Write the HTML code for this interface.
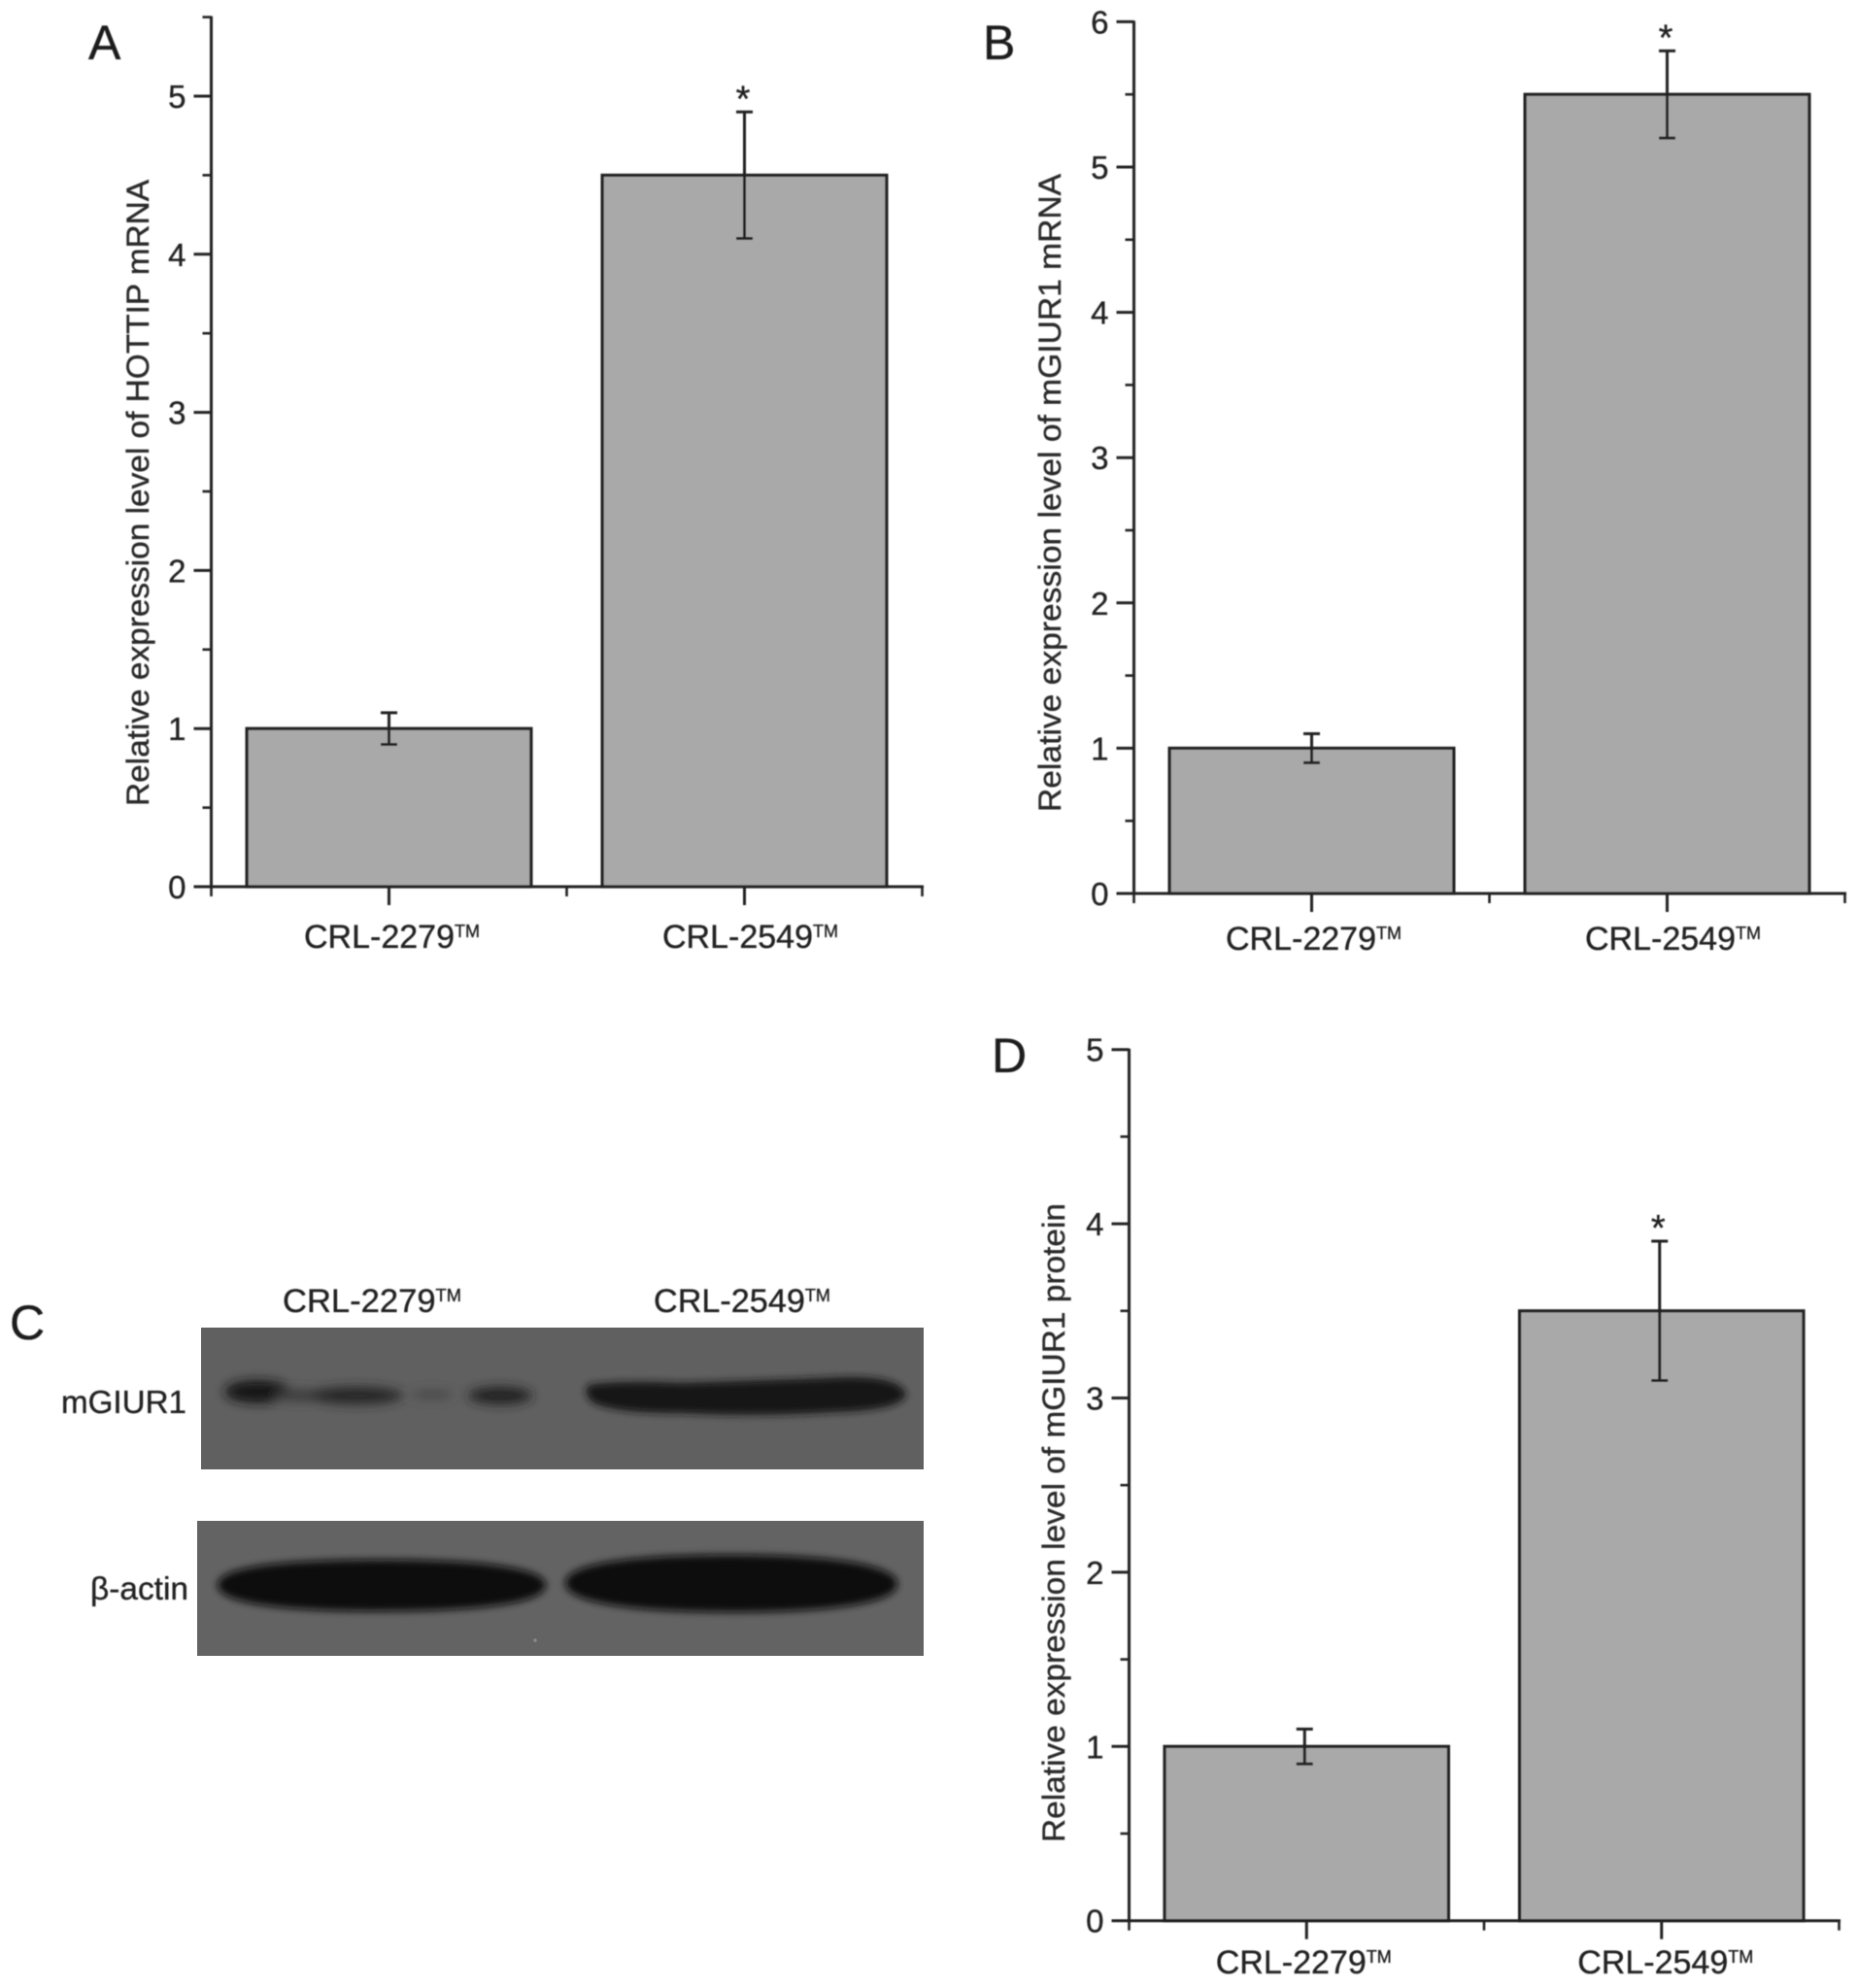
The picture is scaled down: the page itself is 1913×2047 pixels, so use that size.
<!DOCTYPE html>
<html lang="en">
<head>
<meta charset="utf-8">
<title>HOTTIP and mGIUR1 expression</title>
<style>
html,body{margin:0;padding:0;background:#fff;}
svg{display:block;font-family:"Liberation Sans","DejaVu Sans",sans-serif;}
text{stroke:#222;stroke-width:.35px;}
</style>
</head>
<body>
<svg id="figure" xmlns="http://www.w3.org/2000/svg" width="1913" height="2047" viewBox="0 0 1913 2047">
  <defs>
    <filter id="soft" x="-2%" y="-2%" width="104%" height="104%"><feGaussianBlur stdDeviation="0.6"/></filter>
    <filter id="b4" x="-30%" y="-80%" width="160%" height="260%"><feGaussianBlur stdDeviation="4"/></filter>
    <filter id="b5" x="-30%" y="-80%" width="160%" height="260%"><feGaussianBlur stdDeviation="5.5"/></filter>
  </defs>
  <rect width="1913" height="2047" fill="#fff"/>
  <g id="charts" filter="url(#soft)"></g>

  <g>
    <g filter="url(#soft)">
      <text x="10" y="1379" font-size="50" fill="#1c1c1c">C</text>
      <text x="291" y="1351" font-size="34" fill="#222" textLength="184" lengthAdjust="spacingAndGlyphs">CRL-2279<tspan font-size="18" dy="-11">TM</tspan></text>
      <text x="673" y="1351" font-size="34" fill="#222" textLength="182" lengthAdjust="spacingAndGlyphs">CRL-2549<tspan font-size="18" dy="-11">TM</tspan></text>
      <text x="63" y="1455" font-size="33" fill="#222" textLength="129" lengthAdjust="spacingAndGlyphs">mGIUR1</text>
      <text x="93" y="1647" font-size="33" fill="#222" textLength="101" lengthAdjust="spacingAndGlyphs">β-actin</text>
    </g>

    <g>
      <rect x="207" y="1367" width="744" height="146" fill="#606060"/>
      <g filter="url(#b5)" fill="#161616">
        <ellipse cx="265" cy="1433" rx="34" ry="12" fill="#181818"/>
        <ellipse cx="310" cy="1437" rx="30" ry="6" fill="#3a3a3a"/>
        <ellipse cx="367" cy="1437" rx="48" ry="9" fill="#262626"/>
        <ellipse cx="445" cy="1436" rx="22" ry="4" fill="#444"/>
        <ellipse cx="515" cy="1437" rx="33" ry="9" fill="#222"/>
      </g>
      <g filter="url(#b4)">
        <path d="M606 1426 Q640 1421 700 1424 Q800 1421 870 1418 Q928 1417 933 1436 Q928 1452 860 1454 Q780 1459 700 1455 Q630 1455 610 1444 Q599 1434 606 1426Z" fill="#121212"/>
      </g>
    </g>

    <g>
      <rect x="203" y="1566" width="748" height="139" fill="#636363"/>
      <g filter="url(#b4)" fill="#0c0c0c">
        <path d="M224 1632 C224 1613 290 1606 393 1606 C500 1606 562 1615 562 1632 C562 1650 500 1659 393 1659 C290 1659 224 1651 224 1632Z"/>
        <path d="M582 1630 C582 1610 650 1601 753 1601 C860 1601 924 1612 924 1631 C924 1650 860 1660 753 1660 C650 1660 582 1650 582 1630Z"/>
      </g>
      <circle cx="551" cy="1689" r="1.8" fill="#8a8a8a"/>
    </g>
  </g>
</svg>

<script>
const categories = ["CRL-2279", "CRL-2549"];
const trademark = "TM";

const panelAMeans = [1, 4.5];
const panelAErrors = [0.1, 0.4];
const panelATicks = [0, 1, 2, 3, 4, 5];
const panelAMinorTicks = [0.5, 1.5, 2.5, 3.5, 4.5, 5.5];
const panelATitle = "Relative expression level of HOTTIP mRNA";

const panelBMeans = [1, 5.5];
const panelBErrors = [0.1, 0.3];
const panelBTicks = [0, 1, 2, 3, 4, 5, 6];
const panelBMinorTicks = [0.5, 1.5, 2.5, 3.5, 4.5, 5.5];
const panelBTitle = "Relative expression level of mGIUR1 mRNA";

const panelDMeans = [1, 3.5];
const panelDErrors = [0.1, 0.4];
const panelDTicks = [0, 1, 2, 3, 4, 5];
const panelDMinorTicks = [0.5, 1.5, 2.5, 3.5, 4.5];
const panelDTitle = "Relative expression level of mGIUR1 protein";

const SVGNS = "http://www.w3.org/2000/svg";
const INK = "#222";
const root = document.getElementById("charts");

function make(parent, tag, attrs, text) {
  const el = document.createElementNS(SVGNS, tag);
  for (const k in attrs) el.setAttribute(k, attrs[k]);
  if (text !== undefined) el.textContent = text;
  parent.appendChild(el);
  return el;
}

function drawPanel(id, letter, means, errors, ticks, minorTicks, title, g) {
  const group = make(root, "g", {});
  
  

  const y = v => g.y0 - v * g.yUnit;
  const x = v => g.x0 + (v - 0.5) * g.xUnit;
  const yMax = Math.max(ticks[ticks.length - 1], minorTicks[minorTicks.length - 1]);

  const letterEl = make(group, "text", { x: g.letterX, y: g.letterY, "font-size": 50, fill: "#1c1c1c" }, letter);
  
  

  means.forEach((m, i) => {
    const bar = make(group, "rect", {
      x: x(i + 1) - 0.4 * g.xUnit, y: y(m),
      width: 0.8 * g.xUnit, height: g.y0 - y(m),
      fill: "#a9a9a9", stroke: INK, "stroke-width": 3.2
    });
    
    
  });

  means.forEach((m, i) => {
    const cx = x(i + 1) + g.errShift;
    const top = y(m + errors[i]);
    const bottom = y(m - errors[i]);
    const err = make(group, "path", {
      d: `M${cx} ${top}V${bottom}M${cx - 8.5} ${top}H${cx + 8.5}M${cx - 8.5} ${bottom}H${cx + 8.5}`,
      fill: "none", stroke: INK, "stroke-width": 3
    });
    
    
  });

  const iMax = means.indexOf(Math.max(...means));
  const star = make(group, "text", {
    x: x(iMax + 1) + g.errShift - 1.5, y: y(means[iMax] + errors[iMax]) - 1,
    "font-size": 38, "text-anchor": "middle", fill: INK
  }, "*");
  
  

  const yAxis = make(group, "line", { x1: g.x0, x2: g.x0, y1: y(yMax) - 1, y2: g.y0 + 1.5, stroke: INK, "stroke-width": 3 });
  
  

  const xAxis = make(group, "line", { x1: g.x0 - 1.5, x2: x(2.5) + 1.5, y1: g.y0, y2: g.y0, stroke: INK, "stroke-width": 3 });
  
  

  ticks.forEach(t => {
    const tick = make(group, "line", { x1: g.x0 - 18, x2: g.x0, y1: y(t), y2: y(t), stroke: INK, "stroke-width": 3 });
    
    
    const label = make(group, "text", {
      x: g.x0 - 26, y: y(t) + 12, "font-size": 33, "text-anchor": "end", fill: INK
    }, String(t));
    
    
  });

  minorTicks.forEach(t => {
    const tick = make(group, "line", { x1: g.x0 - 9, x2: g.x0, y1: y(t), y2: y(t), stroke: INK, "stroke-width": 2.6 });
    
    
  });

  categories.forEach((c, i) => {
    const tick = make(group, "line", { x1: x(i + 1), x2: x(i + 1), y1: g.y0, y2: g.y0 + 19, stroke: INK, "stroke-width": 3 });
    
    
    const label = make(group, "text", {
      x: x(i + 1) + (i === 0 ? g.labelShift1 : g.labelShift2), y: g.catY, "font-size": 34, "text-anchor": "middle", fill: INK
    }, c);
    
    
    make(label, "tspan", { "font-size": 18, dy: -11 }, trademark);
  });

  [0.5, 1.5, 2.5].forEach(v => {
    const tick = make(group, "line", { x1: x(v), x2: x(v), y1: g.y0, y2: g.y0 + 10, stroke: INK, "stroke-width": 2.6 });
    
    
  });

  const yTitle = make(group, "text", {
    transform: `translate(${g.titleX} ${g.titleY}) rotate(-90)`,
    "font-size": 32, fill: "#2a2a2a", textLength: g.titleLen, lengthAdjust: "spacingAndGlyphs"
  }, title);
  
  
}

drawPanel("a", "A", panelAMeans, panelAErrors, panelATicks, panelAMinorTicks, panelATitle,
  { x0: 217.5, y0: 913, xUnit: 366, yUnit: 162.8, catY: 976, labelShift1: 3, labelShift2: 6, errShift: 0, letterX: 91, letterY: 61, titleX: 153, titleY: 830, titleLen: 645 });
drawPanel("b", "B", panelBMeans, panelBErrors, panelBTicks, panelBMinorTicks, panelBTitle,
  { x0: 1167.5, y0: 920, xUnit: 366, yUnit: 149.6, catY: 978, labelShift1: 2, labelShift2: 6, errShift: 0, letterX: 1012, letterY: 61, titleX: 1092, titleY: 836, titleLen: 657 });
drawPanel("d", "D", panelDMeans, panelDErrors, panelDTicks, panelDMinorTicks, panelDTitle,
  { x0: 1162.5, y0: 1977.7, xUnit: 365.5, yUnit: 179.4, catY: 2032, labelShift1: -3, labelShift2: 4, errShift: -2, letterX: 1021, letterY: 1104, titleX: 1096, titleY: 1897, titleLen: 658 });
</script>
</body>
</html>
